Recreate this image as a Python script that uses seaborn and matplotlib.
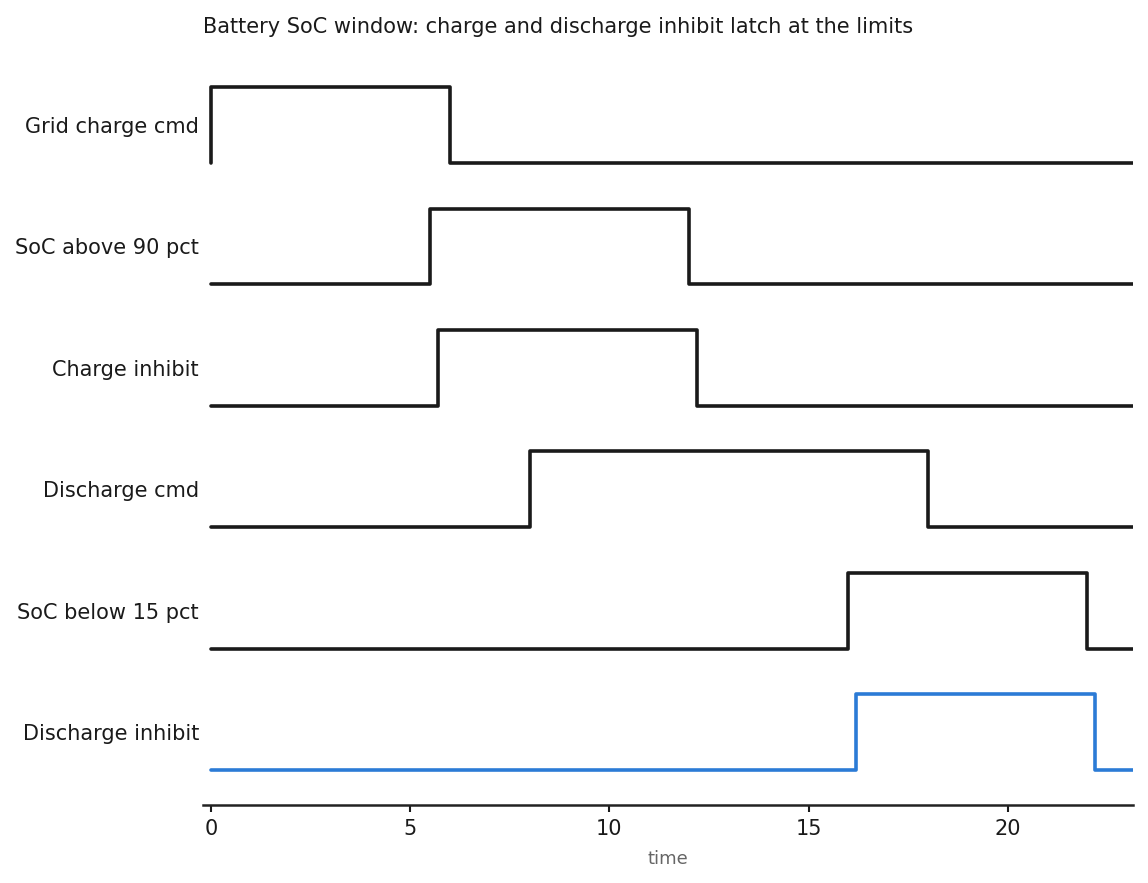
import matplotlib
matplotlib.use("Agg")
import matplotlib.pyplot as plt
import seaborn as sns
import pandas as pd

# signal names, top to bottom
signals = ["Grid charge cmd", "SoC above 90 pct", "Charge inhibit",
           "Discharge cmd", "SoC below 15 pct", "Discharge inhibit"]

# step-post samples: times and 0/1 levels per signal
grid_t = [0, 0, 6, 24]
grid_v = [0, 1, 0, 0]
soc90_t = [0, 5.5, 12, 24]
soc90_v = [0, 1, 0, 0]
chg_inh_t = [0, 5.7, 12.2, 24]
chg_inh_v = [0, 1, 0, 0]
dis_t = [0, 8, 18, 24]
dis_v = [0, 1, 0, 0]
soc15_t = [0, 16, 22, 24]
soc15_v = [0, 1, 0, 0]
dis_inh_t = [0, 16.2, 22.2, 24]
dis_inh_v = [0, 1, 0, 0]

times = [grid_t, soc90_t, chg_inh_t, dis_t, soc15_t, dis_inh_t]
levels = [grid_v, soc90_v, chg_inh_v, dis_v, soc15_v, dis_inh_v]

row_gap = 1.6

rows = []
for i, name in enumerate(signals):
    base = -i * row_gap
    for t, v in zip(times[i], levels[i]):
        rows.append({"signal": name, "time": t, "y": base + v})
df = pd.DataFrame(rows)

palette = {s: "#1a1a1a" for s in signals}
palette["Discharge inhibit"] = "#2b7bd6"

sns.set_style("white")
plt.rcParams['font.family'] = ['DejaVu Sans']

fig = plt.figure(figsize=(11.48, 8.83), dpi=100)
ax = fig.add_axes([0.177, 0.088, 0.810, 0.853])

sns.lineplot(data=df, x="time", y="y", hue="signal", palette=palette,
             estimator=None, sort=False, drawstyle="steps-post",
             linewidth=2.6, legend=False, ax=ax)

ax.set_xlim(-0.2, 23.15)
ax.set_ylim(-(len(signals) - 1) * row_gap - 0.46, 1.46)
ax.set_yticks([-i * row_gap + 0.5 for i in range(len(signals))])
ax.set_yticklabels(signals, fontsize=15, color="#1a1a1a")
ax.set_xticks([0, 5, 10, 15, 20])
ax.tick_params(axis="x", bottom=True, labelsize=15, length=5, width=1.5, pad=5,
               colors="#1a1a1a")
ax.tick_params(axis="y", left=False, length=0, pad=3)

for side in ["left", "right", "top"]:
    ax.spines[side].set_visible(False)
ax.spines["bottom"].set_linewidth(1.8)
ax.spines["bottom"].set_color("#222222")

ax.set_xlabel("time", fontsize=13, color="#666666", labelpad=8)
ax.set_ylabel("")
ax.set_title("Battery SoC window: charge and discharge inhibit latch at the limits",
             loc="left", fontsize=15, color="#1a1a1a", pad=14, x=0.0)

fig.savefig("out.png", dpi=100)
